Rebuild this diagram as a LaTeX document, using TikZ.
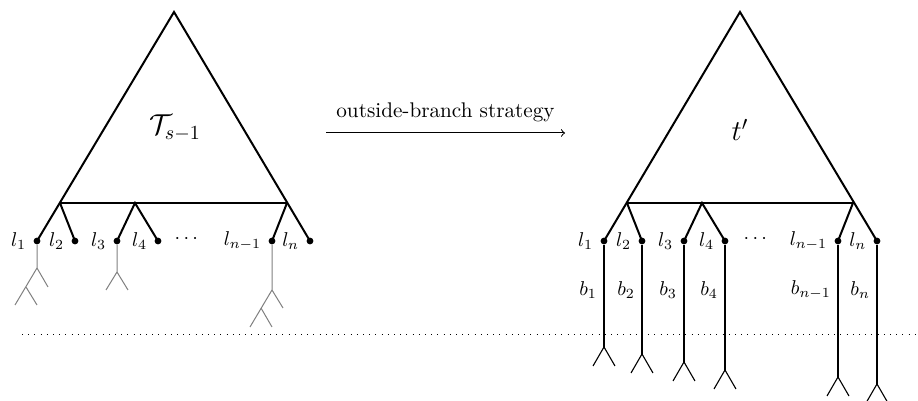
\documentclass[tikz,border=0pt]{standalone}
\usepackage{amsmath,amssymb}
\usepackage{tikz}
\usetikzlibrary{positioning}

\begin{document}
\begin{tikzpicture}[
    x=0.5pt, y=-0.5pt,
    leaf/.style={circle, fill=black, inner sep=0pt, minimum size=3.4pt},
    edge/.style={line width=1pt, line cap=round},
    stem/.style={line width=0.55pt},
    subtree/.style={line width=0.5pt, gray},
    horizon/.style={line width=0.5pt, dash pattern=on 0.5pt off 2.6pt},
    bigtext/.style={font=\Large}
]
\useasboundingbox (0,0) rectangle (918,401);

% left tree
\coordinate (Ltop) at (174,12);
\coordinate (Lbl) at (60,203);
\coordinate (Lbm) at (135,203);
\coordinate (Lbr) at (287,203);
\node (Lname) [bigtext] at (175,128) {$\mathcal{T}_{s-1}$};
\node (La1) [leaf, label={left:$l_1$}] at (37,241) {};
\node (La2) [leaf, label={left:$l_2$}] at (75,241) {};
\node (La3) [leaf, label={left:$l_3$}] at (117,241) {};
\node (La4) [leaf, label={left:$l_4$}] at (158,241) {};
\node (La5) [leaf, label={left:$l_{n-1}$}] at (272,241) {};
\node (La6) [leaf, label={left:$l_n$}] at (310,241) {};
\node (Ldots) at (188,239) {$\cdots$};
\draw [edge] (La1.center) -- (Ltop) -- (La6.center);
\draw [edge] (Lbl) -- (Lbr);
\draw [edge] (Lbl) -- (La2.center);
\draw [edge] (La3.center) -- (Lbm) -- (La4.center);
\draw [edge] (Lbr) -- (La5.center);

% grey subtrees below the leaves
\draw [subtree] (La1) -- (37,268) coordinate (Lf1) -- ++(11,19);
\draw [subtree] (Lf1) -- ++(-22,37);
\draw [subtree] (26,287) -- ++(11,18);
\draw [subtree] (La3) -- (117,272) coordinate (Lf3) -- ++(11,18);
\draw [subtree] (Lf3) -- ++(-11,18);
\draw [subtree] (La5) -- (272,290) coordinate (Lf5) -- ++(11,18);
\draw [subtree] (Lf5) -- ++(-22,37);
\draw [subtree] (261,308) -- ++(11,19);

% arrow
\coordinate (Astart) at (326,133);
\coordinate (Aend) at (565,133);
\draw [->, line width=0.5pt] (Astart) -- node[above=2pt, font=\fontsize{10.6}{12}\selectfont] {outside-branch strategy} (Aend);

% right tree
\coordinate (Rtop) at (740,12);
\coordinate (Rbl) at (627,203);
\coordinate (Rbm) at (702,203);
\coordinate (Rbr) at (853,203);
\node (Rname) [bigtext] at (740,130) {$t'$};
\node (Ra1) [leaf, label={left:$l_1$}] at (604,241) {};
\node (Ra2) [leaf, label={left:$l_2$}] at (642,241) {};
\node (Ra3) [leaf, label={left:$l_3$}] at (684,241) {};
\node (Ra4) [leaf, label={left:$l_4$}] at (725,241) {};
\node (Ra5) [leaf, label={left:$l_{n-1}$}] at (838,241) {};
\node (Ra6) [leaf, label={left:$l_n$}] at (877,241) {};
\node (Rdots) at (757,239) {$\cdots$};
\draw [edge] (Ra1.center) -- (Rtop) -- (Ra6.center);
\draw [edge] (Rbl) -- (Rbr);
\draw [edge] (Rbl) -- (Ra2.center);
\draw [edge] (Ra3.center) -- (Rbm) -- (Ra4.center);
\draw [edge] (Rbr) -- (Ra5.center);

% long branches b_i
\foreach \i/\x/\y/\b in {1/604/347/b_1, 2/642/354/b_2, 3/684/362/b_3,
                         4/725/370/b_4, 5/838/377/b_{n-1}, 6/877/384/b_n} {
    \draw [stem] (Ra\i) -- (\x,\y) coordinate (Rf\i);
    \draw [stem] (Rf\i) -- ++(-11,19);
    \draw [stem] (Rf\i) -- ++(11,19);
    \node (Rb\i) [left] at (\x,290) {$\b$};
}

% horizon
\coordinate (Hl) at (22,335);
\coordinate (Hr) at (918,335);
\draw [horizon] (Hl) -- (Hr);
\end{tikzpicture}
\end{document}
